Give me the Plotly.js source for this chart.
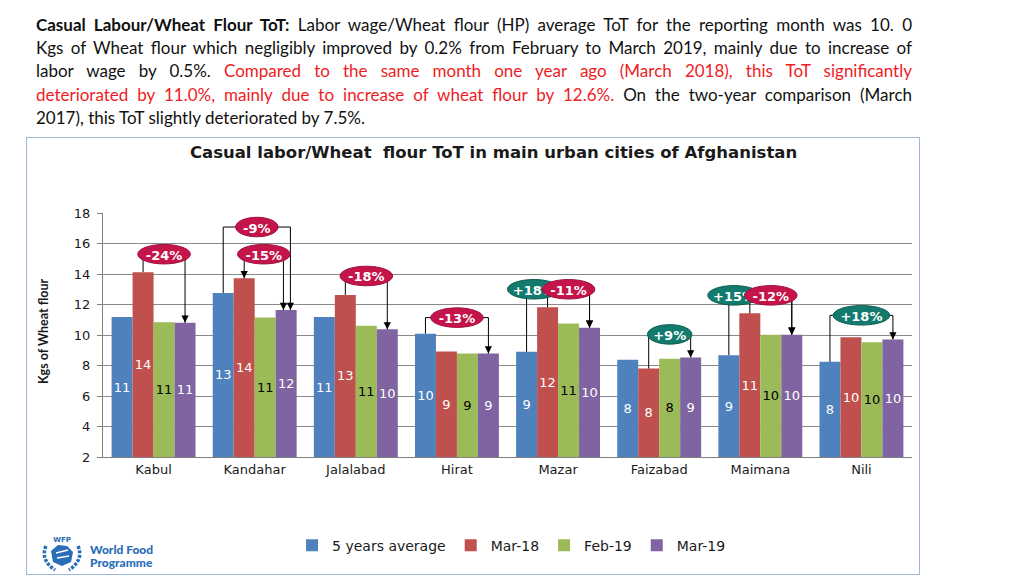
<!DOCTYPE html>
<html>
<head>
<meta charset="utf-8">
<script src="https://cdn.plot.ly/plotly-3.0.1.min.js"></script>
<style>
  html, body { margin:0; padding:0; background:#fff; width:1024px; height:576px; overflow:hidden; }
  #hdr { position:absolute; left:36px; top:13px; width:876px; font-family:'Lato','Open Sans',sans-serif; font-size:17px; color:#111; }
  #hdr .ln { height:23.2px; line-height:23.2px; white-space:nowrap; }
  #hdr .ln span.inner { display:inline-block; transform-origin:0 50%; }
  #hdr .red { color:#EE1C25; }
  #chart { position:absolute; left:26px; top:137px; width:894px; height:438px; }
  #frame { position:absolute; left:26px; top:137px; width:894px; height:438px; box-sizing:border-box; border:1px solid #9DB7D8; pointer-events:none; }
  #logo { position:absolute; left:36px; top:535px; width:130px; height:38px; }
  #logo .t { position:absolute; left:54px; font-family:'Lato','DejaVu Sans',sans-serif; font-weight:900; color:#2A6DB8; font-size:12px; line-height:12px; }
</style>
</head>
<body>
<div id="hdr">
  <div class="ln"><span class="inner"><b>Casual Labour/Wheat Flour ToT:</b> Labor wage/Wheat flour (HP) average ToT for the reporting month was 10. 0</span></div>
  <div class="ln"><span class="inner">Kgs of Wheat flour which negligibly improved by 0.2% from February to March 2019, mainly due to increase of</span></div>
  <div class="ln"><span class="inner">labor wage by 0.5%. <span class="red">Compared to the same month one year ago (March 2018), this ToT significantly</span></span></div>
  <div class="ln"><span class="inner"><span class="red">deteriorated by 11.0%, mainly due to increase of wheat flour by 12.6%.</span> On the two-year comparison (March</span></div>
  <div class="ln"><span class="inner">2017), this ToT slightly deteriorated by 7.5%.</span></div>
</div>
<div id="chart"></div>
<div id="frame"></div>
<div id="logo">
  <svg width="52" height="38" viewBox="0 0 52 38" style="position:absolute;left:0;top:0">
    <text x="26" y="7" text-anchor="middle" font-family="DejaVu Sans" font-weight="bold" font-size="7" fill="#2A6DB8">WFP</text>
    <path d="M10,11 Q4,25 19,35" stroke="#2A6DB8" stroke-width="3.5" fill="none" stroke-dasharray="3,1.5"/>
    <path d="M42,11 Q48,25 33,35" stroke="#2A6DB8" stroke-width="3.5" fill="none" stroke-dasharray="3,1.5"/>
    <path d="M15,16 L22,10 L31,11 L37,17 L35,27 L26,31 L17,27 Z" fill="#2A6DB8"/>
    <path d="M20,18 L32,15 M21,23 L33,21" stroke="#fff" stroke-width="1.3"/>
  </svg>
  <div class="t" style="top:9px">World Food</div>
  <div class="t" style="top:22px">Programme</div>
</div>
<script>
// ---------------- data ----------------
const cities = ['Kabul','Kandahar','Jalalabad','Hirat','Mazar','Faizabad','Maimana','Nili'];
const seriesNames = ['5 years average','Mar-18','Feb-19','Mar-19'];
const avg5  = [11.18, 12.76, 11.18, 10.09,  8.90, 8.38,  8.68, 8.24];
const mar18 = [14.12, 13.72, 12.63,  8.92, 11.82, 7.80, 11.42, 9.86];
const feb19 = [10.83, 11.14, 10.61,  8.79, 10.76, 8.44, 10.02, 9.53];
const mar19 = [10.80, 11.64, 10.37,  8.79, 10.48, 8.52, 10.02, 9.71];
const yTicks = [2,4,6,8,10,12,14,16,18];

// change call-outs (percent labels)
const calloutCity = ['Kabul','Kandahar','Kandahar','Jalalabad','Hirat','Mazar','Mazar','Faizabad','Maimana','Maimana','Nili'];
const calloutText = ['-24%','-9%','-15%','-18%','-13%','+18%','-11%','+9%','+15%','-12%','+18%'];

// ---------------- style / layout config ----------------
const colors = ['#4F81BD','#C0504D','#9BBB59','#8064A2'];
const textColors = ['#ffffff','#ffffff','#000000','#ffffff'];
const BASE = 2;            // axis floor: bars drawn from here
const BARGAP = 0.17;
const W = (1 - BARGAP) / 4;
const OVAL_RED = '#C5144A', OVAL_RED_LINE = '#9E1040';
const OVAL_TEAL = '#137B6D', OVAL_TEAL_LINE = '#0D5C52';
const OVAL_W4 = 0.52, OVAL_W3 = 0.42, OVAL_H = 1.28; // in axis units
const calloutCfg = [
  {from:1, to:3, level:15.3,  teal:false},
  {from:0, to:3, level:17.08, teal:false, dxTo:0.042},
  {from:1, to:3, level:15.3,  teal:false, arrowFrom:true, dxTo:-0.027},
  {from:1, to:3, level:13.87, teal:false},
  {from:0, to:3, level:11.14, teal:false},
  {from:0, to:3, level:13.0,  teal:true, ovalAt:-0.24},
  {from:1, to:3, level:13.0,  teal:false},
  {from:1, to:3, level:10.04, teal:true, wide:true},
  {from:0, to:3, level:12.6,  teal:true, ovalAt:-0.26},
  {from:1, to:3, level:12.6,  teal:false},
  {from:0, to:3, level:11.29, teal:true, wider:true}
];

const series = [avg5, mar18, feb19, mar19];
const FONT = 'DejaVu Sans, Verdana, sans-serif';

const traces = series.map((vals, k) => ({
  type:'bar', name: seriesNames[k], x: cities,
  y: vals.map(v => v - BASE), base: BASE, customdata: vals,
  marker:{color: colors[k], line:{width:0}},
  texttemplate:'%{customdata:.0f}', textposition:'inside', insidetextanchor:'middle', textangle:0,
  textfont:{family:FONT, size:13, color:textColors[k]},
  hovertemplate:'%{x}: %{customdata}<extra>' + seriesNames[k] + '</extra>'
}));

function barX(ci, k){ return ci + (k - 1.5) * W; }

const lineShapes = [], ovalShapes = [], arrows = [];
const LINE = {color:'#000', width:1};
calloutCity.forEach((city, i) => {
  const c = calloutCfg[i];
  const ci = cities.indexOf(city);
  const xl = barX(ci, c.from) + (c.dxFrom || 0);
  const xr = barX(ci, c.to) + (c.dxTo || 0);
  const yl = series[c.from][ci], yr = series[c.to][ci];
  lineShapes.push({type:'line', xref:'x', yref:'y', x0:xl, x1:xl, y0:yl, y1:c.level, line:LINE, layer:'above'});
  lineShapes.push({type:'line', xref:'x', yref:'y', x0:xl, x1:xr, y0:c.level, y1:c.level, line:LINE, layer:'above'});
  lineShapes.push({type:'line', xref:'x', yref:'y', x0:xr, x1:xr, y0:c.level, y1:yr, line:LINE, layer:'above'});
  arrows.push({x:xr, y:yr, xref:'x', yref:'y', ax:0, ay:-9, text:'', showarrow:true,
               arrowhead:2, arrowsize:1.2, arrowwidth:1.2, arrowcolor:'#000', standoff:0});
  if (c.arrowFrom) arrows.push({x:xl, y:yl, xref:'x', yref:'y', ax:0, ay:-9, text:'', showarrow:true,
               arrowhead:2, arrowsize:1.2, arrowwidth:1.2, arrowcolor:'#000', standoff:0});
  const cx = (c.ovalAt !== undefined) ? ci + c.ovalAt : (xl + xr) / 2;
  const txt = calloutText[i];
  let w = txt.length >= 4 ? OVAL_W4 : OVAL_W3;
  if (c.wide) w += 0.02;
  if (c.wider) w += 0.04;
  ovalShapes.push({type:'circle', xref:'x', yref:'y',
    x0:cx - w/2, x1:cx + w/2, y0:c.level - OVAL_H/2, y1:c.level + OVAL_H/2, layer:'above',
    fillcolor: c.teal ? OVAL_TEAL : OVAL_RED,
    line:{color: c.teal ? OVAL_TEAL_LINE : OVAL_RED_LINE, width:1},
    label:{text:'<b>' + txt + '</b>', font:{family:FONT, size:13, color:'#ffffff'}, textposition:'middle center'}
  });
});

const layout = {
  width:894, height:438,
  margin:{l:77, r:8, t:76, b:118},
  paper_bgcolor:'#ffffff', plot_bgcolor:'#ffffff',
  barmode:'group', bargap:BARGAP, bargroupgap:0,
  showlegend:true,
  uniformtext:{mode:'show', minsize:13},
  title:{text:'<b>Casual labor/Wheat  flour ToT in main urban cities of Afghanistan</b>',
         font:{family:FONT, size:16.5, color:'#1a1a1a'}, x:0.523, xanchor:'center', xref:'container',
         y:0.966, yanchor:'middle', yref:'container'},
  xaxis:{type:'category', showline:true, linecolor:'#7f7f7f', linewidth:1, ticks:'',
         tickfont:{family:FONT, size:13, color:'#1a1a1a'}, showgrid:false, zeroline:false},
  yaxis:{range:[2,18], tickvals:yTicks, showline:true, linecolor:'#7f7f7f', linewidth:1,
         ticks:'outside', ticklen:5, tickcolor:'#7f7f7f', ticklabelstandoff:4,
         showgrid:true, gridcolor:'#8a8a8a', gridwidth:1, zeroline:false,
         tickfont:{family:FONT, size:13, color:'#1a1a1a'}},
  legend:{orientation:'h', x:0.505, xanchor:'center', y:-0.3635, yanchor:'middle',
          font:{family:FONT, size:14, color:'#1a1a1a'}, itemwidth:30, bgcolor:'rgba(0,0,0,0)'},
  shapes: lineShapes.concat(ovalShapes),
  annotations: arrows.concat([{
    text:'<b>Kgs of Wheat flour</b>', xref:'paper', yref:'paper', x:0, y:0.5, xanchor:'center', yanchor:'middle',
    xshift:-60, yshift:4, textangle:-90, showarrow:false,
    font:{family:'Lato, Liberation Sans, sans-serif', size:12.5, color:'#1a1a1a'}
  }])
};

Plotly.newPlot('chart', traces, layout, {displayModeBar:false, staticPlot:true});

// justify header lines
(function(){
  const lines = Array.from(document.querySelectorAll('#hdr .ln .inner'));
  const target = 876;
  const widths = lines.map(l => l.getBoundingClientRect().width);
  const maxW = Math.max.apply(null, widths.slice(0,4));
  const scale = Math.min(1, target / maxW);
  lines.forEach((l, i) => {
    l.style.transform = 'scaleX(' + scale + ')';
    if (i < 4) {
      const spaces = (l.textContent.match(/ /g) || []).length;
      const extra = (target / scale - widths[i]) / spaces;
      l.style.wordSpacing = extra + 'px';
    }
  });
})();
</script>
</body>
</html>
